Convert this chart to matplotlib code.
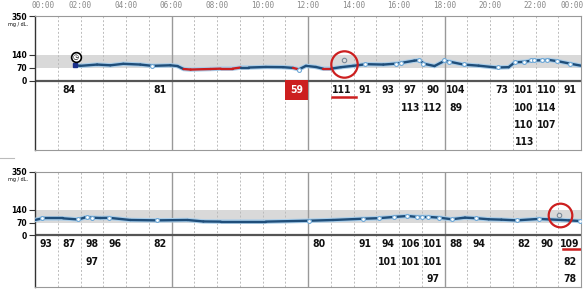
import numpy as np
import matplotlib.pyplot as plt
from matplotlib.collections import LineCollection
from matplotlib.lines import Line2D

# dia 1 - curva
horas_1 = [1.76, 1.99, 2.73, 3.31, 3.88, 4.63, 5.16, 5.95, 6.26, 6.53, 6.84, 7.72, 8.16, 8.69,
           9.04, 9.40, 10.15, 10.90, 11.34, 11.60, 11.91, 12.35, 12.66, 13.01, 13.45, 13.98,
           14.56, 15.31, 15.88, 16.10, 16.67, 16.89, 17.11, 17.56, 18.00, 18.20, 18.84, 19.50,
           20.29, 20.82, 21.09, 21.53, 21.84, 22.28, 22.59, 23.03, 23.60, 24.0]
glicose_1 = [84, 81, 88, 84, 92, 88, 81, 84, 80, 64, 61, 64, 66, 66,
             72, 72, 75, 74, 70, 62, 81, 75, 66, 66, 74, 81,
             90, 88, 93, 97, 109, 112, 92, 80, 108, 104, 88, 82,
             72, 74, 100, 103, 110, 111, 113, 105, 91, 82]
# dia 1 - leituras (marcadores)
leit_h_1 = [5.16, 11.60, 14.5, 15.88, 16.07, 16.88, 17.07, 17.98, 18.2, 18.86, 20.33,
            21.1, 21.5, 21.8, 21.95, 22.3, 22.5, 22.95, 23.5]
leit_v_1 = [81, 59, 91, 93, 97, 113, 90, 112, 104, 89, 73,
            101, 100, 110, 113, 110, 114, 107, 91]
# dia 1 - tabela por hora
colunas_1 = [1, 5, 11, 13, 14, 15, 16, 17, 18, 20, 21, 22, 23]
valores_1 = [[84], [81], [59], [111], [91], [93], [97, 113], [90, 112], [104, 89], [73],
             [101, 100, 110, 113], [110, 114, 107], [91]]

# dia 2 - curva
horas_2 = [0.0, 0.31, 1.24, 1.9, 2.2, 2.5, 2.87, 3.26, 4.19, 5.38, 6.7, 7.4, 8.16, 10.15,
           12.04, 13.1, 14.4, 15.1, 15.8, 16.37, 16.8, 17.3, 17.78, 18.31, 18.9, 19.37,
           19.94, 20.5, 21.17, 22.14, 23.16, 23.47, 24.0]
glicose_2 = [84, 93, 93, 87, 98, 97, 95, 96, 84, 82, 84, 76, 75, 75,
             80, 84, 91, 94, 101, 106, 101, 101, 97, 88, 97, 94,
             88, 86, 82, 90, 84, 82, 78]
leit_h_2 = [0.31, 1.9, 2.3, 2.5, 3.26, 5.38, 12.04, 14.4, 15.1, 15.8, 16.37, 16.8, 17.03,
            17.27, 17.78, 18.31, 19.37, 21.17, 22.14, 23.97]
leit_v_2 = [93, 87, 98, 97, 96, 82, 80, 91, 94, 101, 106, 101, 101,
            101, 97, 88, 94, 82, 90, 78]
colunas_2 = [0, 1, 2, 3, 5, 12, 14, 15, 16, 17, 18, 19, 21, 22, 23]
valores_2 = [[93], [87], [98, 97], [96], [82], [80], [91], [94, 101], [106, 101],
             [101, 101, 97], [88], [94], [82], [90], [109, 82, 78]]

linhas_tabela = [-50, -145, -240, -332]
AZUL = '#1f4e7a'
HALO = '#a9cde9'
VERMELHO = '#cc1f1f'
FONTE_TAB = dict(fontsize=7.5, fontweight='bold', fontstretch='condensed',
                 family=['DejaVu Sans'])


def desenhar_painel(ax, horas, glicose, leit_h, leit_v, colunas, valores, y_min):
    ax.set_xlim(0, 24)
    ax.set_ylim(y_min, 350)
    ax.axhspan(70, 140, color='#d9d9d9', lw=0, zorder=0)
    for h in range(1, 24):
        if h % 6 == 0:
            ax.axvline(h, color='#999999', lw=1, zorder=1)
        else:
            ax.axvline(h, color='#bbbbbb', lw=0.7, ls=(0, (2, 2)), zorder=1)
    ax.axhline(0, color='#555555', lw=1.6, zorder=2)

    ax.plot(horas, glicose, color=HALO, lw=3.2, solid_capstyle='round', zorder=3)
    pts = np.column_stack([horas, glicose])
    segs = np.stack([pts[:-1], pts[1:]], axis=1)
    g = np.array(glicose)
    cores = [VERMELHO if (g[i] + g[i + 1]) / 2 < 70 else AZUL for i in range(len(g) - 1)]
    ax.add_collection(LineCollection(segs, colors=cores, lw=1.7, capstyle='round', zorder=4))
    ax.plot(leit_h, leit_v, 'o', ms=2.8, mfc='white', mec='#6fa8d6', mew=0.8, zorder=5)

    for h, vals in zip(colunas, valores):
        for k, v in enumerate(vals):
            ax.text(h + 0.5, linhas_tabela[k], str(v), ha='center', va='center',
                    color='#111111', zorder=6, **FONTE_TAB)

    ax.set_yticks([0, 70, 140, 350])
    ax.set_yticklabels(['0', '70', '140', '350'], fontsize=5.5, fontweight='bold')
    ax.tick_params(axis='y', length=4, width=0.8, pad=1.5, color='#333333')
    ax.set_xticks([])
    ax.text(-0.75, 305, 'mg / dL.', fontsize=3.5, ha='center', va='center')
    for lado in ['top', 'right', 'bottom']:
        ax.spines[lado].set_color('#999999')
        ax.spines[lado].set_linewidth(0.8)
    ax.spines['left'].set_color('#333333')
    ax.spines['left'].set_linewidth(1.0)


fig = plt.figure(figsize=(5.86, 2.93), dpi=100)
ax1 = fig.add_axes([35 / 586, 1 - 150 / 293, 546 / 586, 134 / 293])
ax2 = fig.add_axes([35 / 586, 1 - 287 / 293, 546 / 586, 115.3 / 293])

desenhar_painel(ax1, horas_1, glicose_1, leit_h_1, leit_v_1, colunas_1, valores_1, -373)
desenhar_painel(ax2, horas_2, glicose_2, leit_h_2, leit_v_2, colunas_2, valores_2, -285)

# rotulos de hora no topo
rotulos = ['00:00', '02:00', '04:00', '06:00', '08:00', '10:00', '12:00',
           '14:00', '16:00', '18:00', '20:00', '22:00', '00:00']
for i, r in enumerate(rotulos):
    x = i * 2
    if i == 0:
        x = 0.35
    elif i == len(rotulos) - 1:
        x = 23.6
    ax1.text(x, 405, r, ha='center', va='center', fontsize=5.5, color='#888888',
             family='DejaVu Sans Mono', clip_on=False)

# marcador inicial e relogio
ax1.plot([1.76], [84], 's', ms=3, color='#1a2f8a', zorder=6)
ax1.plot([1.8], [128], 'o', ms=7, mfc='white', mec='black', mew=1.2, zorder=6)
ax1.text(1.8, 128, '◷', fontsize=5, ha='center', va='center', color='black', zorder=7)

# circulos vermelhos
ax1.plot([13.6], [111], 'o', ms=3.2, mfc='#dddddd', mec='#7a8a99', mew=0.8, zorder=6)
ax1.plot([13.6], [92], 'o', ms=19, mfc='none', mec=VERMELHO, mew=1.6, zorder=7)
ax2.plot([23.05], [109], 'o', ms=3.2, mfc='#dddddd', mec='#7a8a99', mew=0.8, zorder=6)
ax2.plot([23.07], [112], 'o', ms=17, mfc='none', mec=VERMELHO, mew=1.6, zorder=7)

# sublinhados vermelhos
ax1.plot([13.06, 14.1], [-88, -88], color=VERMELHO, lw=1.8, zorder=6)
ax2.plot([23.2, 23.95], [-75, -75], color=VERMELHO, lw=1.8, zorder=6)

# 59 em caixa vermelha
for t in ax1.texts:
    if t.get_text() == '59':
        t.set_color('white')
        t.set_bbox(dict(boxstyle='square,pad=0.5', fc=VERMELHO, ec='none'))

fig.add_artist(Line2D([0, 14 / 586], [1 - 158 / 293, 1 - 158 / 293], color='#bbbbbb', lw=0.8))

fig.savefig('out.png', dpi=100)
